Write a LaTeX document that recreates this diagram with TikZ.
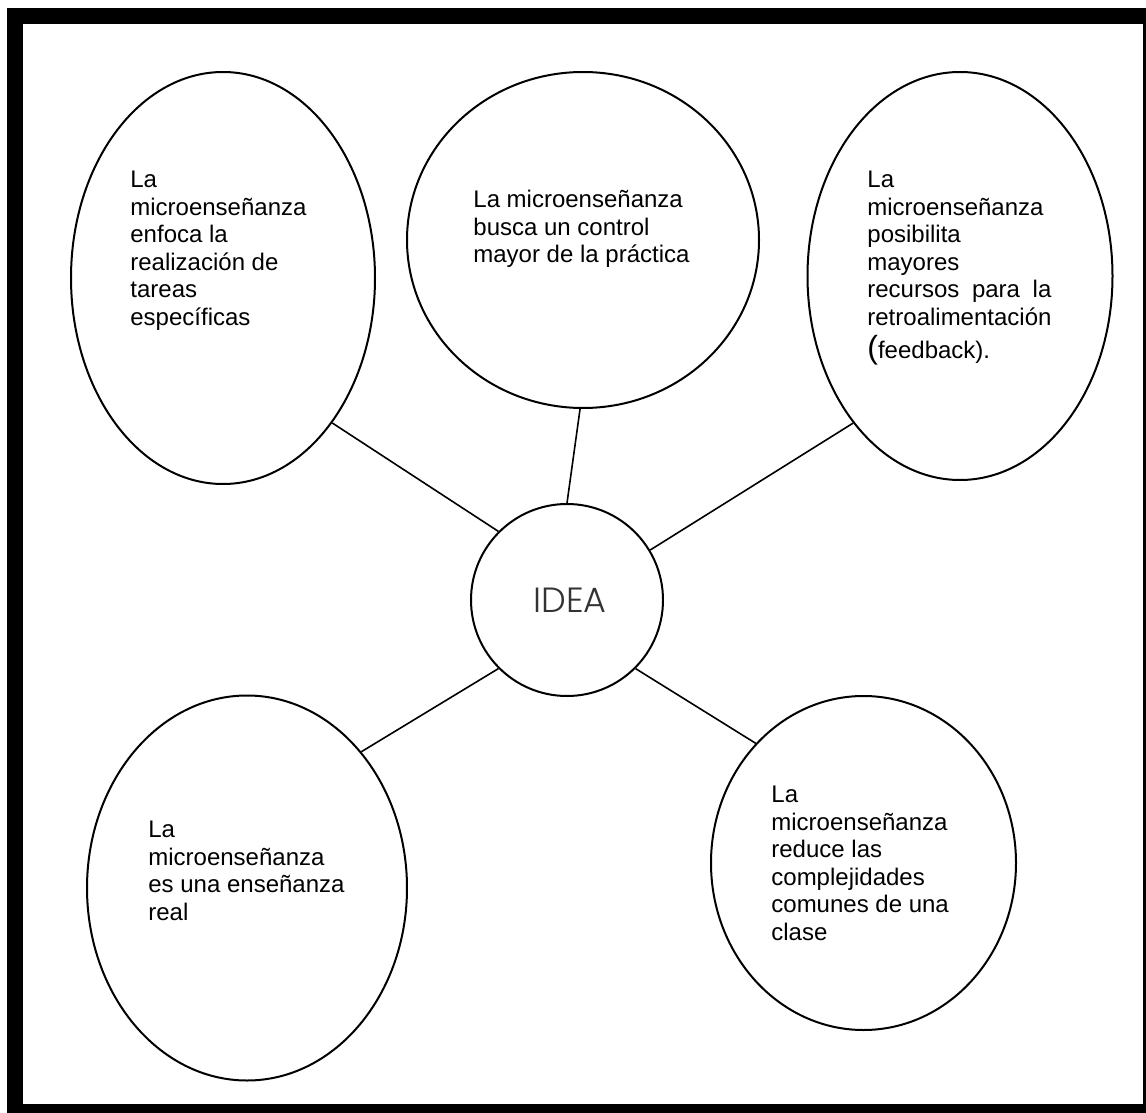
\documentclass[tikz,border=0pt]{standalone}
\usepackage{fontspec}
\setmainfont{Liberation Sans}
\newfontfamily\ideafont{Poppins}[UprightFont=* Light]
\usetikzlibrary{shapes.geometric}

\begin{document}
\begin{tikzpicture}[x=0.5pt,y=-0.5pt,
  bubble/.style={draw, ellipse, line width=1pt, inner sep=0pt},
  body/.style={anchor=north west, align=left, inner sep=0pt,
    font=\fontsize{12pt}{13.75pt}\selectfont},
  spoke/.style={line width=0.8pt}]
\useasboundingbox (0,0) rectangle (1146,1113);
% heavy page frame
\fill[black] (7,8) rectangle (1146,1113);
\fill[white] (23,24) rectangle (1143,1104);

% central idea
\node[draw, circle, minimum size=96pt, line width=1pt, inner sep=0pt,
  font=\ideafont\fontsize{17.5pt}{19pt}\selectfont, text=black!80] (idea) at (567,600) {\hspace{3pt}IDEA};

% surrounding bubbles
\node[bubble, minimum width=152pt, minimum height=206pt] (tl) at (223,278) {};
\node[bubble, minimum width=176pt, minimum height=168pt] (mid) at (583,240) {};
\node[bubble, minimum width=152.5pt, minimum height=204pt] (tr) at (960,276) {};
\node[bubble, minimum width=160pt, minimum height=192.5pt] (bl) at (247,888) {};
\node[bubble, minimum width=152.5pt, minimum height=167pt] (br) at (863.5,863) {};

% bubble texts
\node[body] (tltext) at (130,171) {La\\microenseñanza\\enfoca la\\realización de\\tareas\\específicas};
\node[body] (midtext) at (473,190) {La microenseñanza\\busca un control\\mayor de la práctica};
\node[body] (trtext) at (867,171) {La\\microenseñanza\\posibilita\\mayores\\\hbox to 92pt{recursos\hfil para\hfil la}\\retroalimentación\\[2.75pt]{\fontsize{16pt}{16pt}\selectfont(}feedback).};
\node[body] (bltext) at (148,821) {La\\microenseñanza\\es una enseñanza\\real};
\node[body] (brtext) at (771,786) {La\\microenseñanza\\reduce las\\complejidades\\comunes de una\\clase};

% spokes
\draw[spoke] (tl.-53) -- (idea.135);
\draw[spoke] (mid.-91) -- (idea.90);
\draw[spoke] (tr.-126.5) -- (idea.31);
\draw[spoke] (bl.50) -- (idea.225);
\draw[spoke] (br.132) -- (idea.-45);
\end{tikzpicture}
\end{document}
